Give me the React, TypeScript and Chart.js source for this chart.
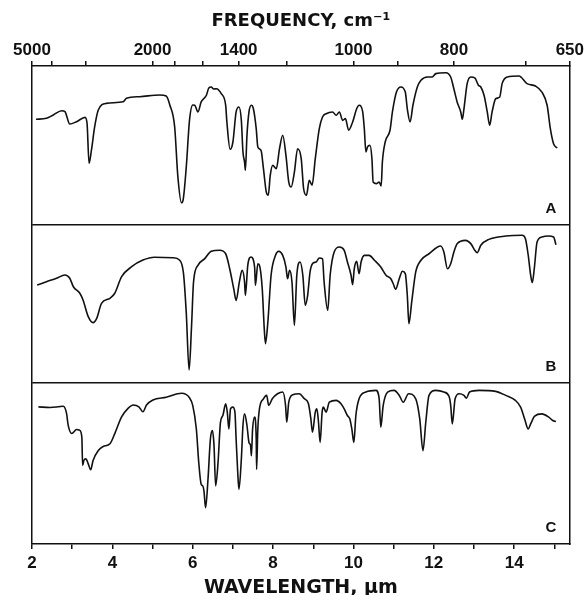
import React, { useEffect, useRef } from 'react';
import { Chart, registerables } from 'chart.js';

Chart.register(...registerables);

// Spectrum A (wavelength in µm, % transmittance within panel)
const wavelengthA = [2.10,2.36,2.53,2.74,2.82,2.94,3.11,3.32,3.37,3.42,3.48,3.56,3.65,3.85,4.27,4.35,4.68,5.18,5.34,5.43,5.55,5.63,5.72,5.76,5.84,5.92,6.00,6.05,6.13,6.21,6.34,6.40,6.46,6.52,6.59,6.71,6.82,6.85,6.93,7.00,7.08,7.15,7.21,7.25,7.29,7.31,7.35,7.40,7.46,7.51,7.58,7.62,7.70,7.76,7.83,7.88,7.93,7.99,8.08,8.16,8.24,8.32,8.39,8.45,8.53,8.61,8.70,8.76,8.83,8.90,8.97,9.05,9.15,9.23,9.32,9.48,9.57,9.65,9.73,9.80,9.88,9.98,10.08,10.14,10.23,10.27,10.31,10.35,10.41,10.46,10.49,10.57,10.64,10.69,10.72,10.79,10.91,10.97,11.07,11.18,11.29,11.34,11.41,11.48,11.59,11.68,11.84,11.96,12.05,12.30,12.42,12.50,12.58,12.67,12.71,12.75,12.83,12.92,13.02,13.11,13.17,13.25,13.33,13.39,13.45,13.54,13.64,13.70,13.83,14.12,14.32,14.53,14.69,14.82,14.90,14.98,15.07];
const transA = [66.5,67.1,69.2,71.9,71.3,63.5,65.0,67.7,64.0,38.8,47.2,61.8,72.3,76.5,77.5,79.7,80.7,81.8,81.1,75.5,61.8,30.4,14.0,15.7,36.7,66.0,75.5,75.3,71.1,77.4,81.6,86.2,86.8,85.5,85.7,82.6,75.3,64.8,47.6,52.2,71.1,74.2,65.8,45.9,39.6,34.4,56.4,71.1,75.3,73.1,60.6,49.1,47.0,35.4,20.8,18.7,31.3,37.5,35.4,48.0,56.4,43.8,27.0,23.9,33.3,48.0,41.7,22.8,18.7,28.1,25.0,41.7,60.6,67.9,70.0,71.1,69.0,71.1,65.8,66.9,59.6,64.8,73.1,75.3,71.1,60.6,45.9,49.1,50.1,41.7,27.0,26.0,27.0,24.5,39.6,52.2,59.6,71.1,83.6,86.8,83.6,73.1,64.8,75.3,86.8,91.0,93.1,93.1,95.2,95.8,93.1,85.5,77.4,71.1,66.5,73.1,88.9,93.1,92.5,87.9,86.8,81.6,71.1,62.7,71.1,79.4,80.5,88.9,93.1,93.7,88.9,87.4,83.6,75.3,60.6,51.1,48.4];

// Spectrum B
const wavelengthB = [2.13,2.36,2.61,2.82,2.94,3.03,3.19,3.27,3.40,3.52,3.61,3.73,3.94,4.06,4.23,4.48,4.76,5.05,5.51,5.67,5.77,5.84,5.91,5.97,6.02,6.13,6.30,6.46,6.67,6.82,6.92,7.02,7.08,7.16,7.23,7.29,7.31,7.37,7.45,7.54,7.56,7.62,7.66,7.73,7.78,7.81,7.87,7.95,8.06,8.14,8.24,8.32,8.36,8.41,8.47,8.53,8.59,8.67,8.74,8.80,8.86,8.92,8.98,9.07,9.15,9.23,9.27,9.36,9.42,9.52,9.65,9.77,9.85,9.94,9.98,10.02,10.08,10.14,10.19,10.27,10.39,10.52,10.68,10.81,10.93,10.99,11.05,11.14,11.22,11.29,11.34,11.38,11.45,11.55,11.68,11.88,12.17,12.25,12.34,12.42,12.50,12.58,12.79,12.92,13.02,13.08,13.17,13.37,13.79,14.20,14.28,14.35,14.41,14.45,14.50,14.57,14.69,14.86,14.98,15.04];
const transB = [62.0,64.1,66.3,68.4,66.3,60.9,56.8,52.5,42.0,38.2,40.9,50.4,53.6,56.8,67.3,73.6,77.8,79.6,79.3,77.8,69.4,44.1,8.2,35.6,63.9,74.5,78.7,83.4,84.0,81.8,72.3,59.7,52.3,63.9,71.3,63.9,55.5,74.5,79.7,73.4,61.8,75.5,74.5,59.7,34.4,24.9,38.6,68.2,80.8,83.4,80.8,73.4,66.0,71.3,63.9,36.5,68.2,76.6,68.2,49.2,55.5,70.3,75.5,76.6,79.1,78.5,63.9,46.0,68.2,82.9,86.1,84.0,76.6,68.2,62.2,72.3,77.0,69.2,76.6,80.8,80.8,77.7,73.4,68.2,66.0,62.8,59.3,66.0,70.7,69.2,55.5,37.5,51.3,70.3,77.7,81.8,86.7,82.9,72.3,75.5,82.9,88.2,90.3,88.2,84.0,82.5,87.2,90.9,93.0,93.5,91.3,80.8,68.2,63.5,72.3,89.2,92.4,93.0,92.4,87.5];

// Spectrum C
const wavelengthC = [2.16,2.45,2.65,2.78,2.86,2.90,2.99,3.11,3.19,3.24,3.26,3.29,3.34,3.40,3.46,3.52,3.65,3.77,3.94,4.06,4.23,4.39,4.52,4.66,4.76,4.85,5.01,5.34,5.72,5.92,6.00,6.09,6.15,6.21,6.25,6.28,6.32,6.38,6.44,6.49,6.53,6.57,6.63,6.69,6.75,6.82,6.86,6.90,6.94,7.00,7.05,7.08,7.12,7.15,7.21,7.25,7.29,7.35,7.40,7.44,7.46,7.49,7.54,7.58,7.59,7.62,7.66,7.76,7.84,7.89,7.98,8.11,8.24,8.31,8.34,8.39,8.49,8.65,8.78,8.88,8.94,8.98,9.05,9.09,9.13,9.17,9.22,9.25,9.32,9.40,9.57,9.69,9.77,9.85,9.91,9.96,10.01,10.06,10.14,10.31,10.56,10.64,10.68,10.74,10.85,11.01,11.14,11.24,11.37,11.55,11.65,11.73,11.80,11.88,12.05,12.25,12.38,12.42,12.46,12.53,12.63,12.75,12.81,12.89,13.12,13.54,13.79,14.03,14.16,14.26,14.35,14.41,14.51,14.69,14.86,14.96,15.04];
const transC = [85.2,84.8,85.2,85.6,81.1,73.8,68.6,71.1,70.6,66.4,48.8,51.9,52.9,49.8,46.1,51.9,58.1,60.6,62.3,68.6,78.9,84.2,86.3,85.2,82.1,86.3,89.4,91.1,93.6,90.8,86.1,71.4,50.6,37.1,36.1,32.9,22.5,40.2,65.2,70.4,61.1,36.1,50.6,75.6,79.8,87.1,81.9,71.4,83.9,85.0,81.9,65.2,44.4,33.9,52.7,73.6,80.8,73.6,63.1,61.1,54.8,71.4,78.8,65.2,46.4,71.4,83.9,90.2,92.3,86.1,90.2,93.3,94.4,86.1,75.6,88.1,92.7,93.3,90.2,87.1,77.7,69.4,81.9,83.9,75.6,63.1,81.9,85.0,81.9,88.1,89.2,87.1,83.9,79.8,77.7,71.4,63.1,79.8,90.2,94.4,95.4,90.2,72.5,86.1,94.4,95.4,92.3,88.1,93.3,90.2,77.7,57.9,75.6,92.3,95.4,94.4,91.6,86.1,74.6,90.2,93.3,92.3,90.6,94.4,95.4,94.8,92.3,89.2,85.0,77.7,71.4,74.6,79.4,80.8,78.8,76.7,76.1];

// Axis ticks
const wavelengthTicks = [2, 3, 4, 5, 6, 7, 8, 9, 10, 11, 12, 13, 14, 15];
const wavelengthLabels = [2, 4, 6, 8, 10, 12, 14];
const frequencyTicks = [5000, 4000, 3000, 2000, 1800, 1600, 1400, 1200, 1000, 900, 800, 700, 650];
const frequencyLabels = [5000, 2000, 1400, 1000, 800, 650];
const panelNames = ['A', 'B', 'C'];

const INK = '#111';
const TICK_FONT = { family: "'Liberation Sans', Arial, sans-serif", size: 17, weight: 'bold' as const, lineHeight: 1 };
const TOP_TITLE_FONT = { family: "'DejaVu Sans', sans-serif", size: 18, weight: 'bold' as const, lineHeight: 1 };
const BOTTOM_TITLE_FONT = { family: "'DejaVu Sans', sans-serif", size: 19, weight: 'bold' as const, lineHeight: 1 };

const panelLetters = {
  id: 'panelLetters',
  afterDraw(chart: any) {
    const ctx = chart.ctx;
    const area = chart.chartArea;
    const ids = ['yA', 'yB', 'yC'];
    ctx.save();
    ctx.fillStyle = INK;
    ctx.font = "bold 15px 'Liberation Sans', Arial, sans-serif";
    ctx.textAlign = 'center';
    ctx.textBaseline = 'middle';
    ids.forEach((id, i) => {
      const s = chart.scales[id];
      ctx.fillText(panelNames[i], area.right - 19, s.bottom - 16);
    });
    ctx.restore();
  },
};

export default function App() {
  const ref = useRef<HTMLCanvasElement>(null);

  useEffect(() => {
    const canvas = ref.current;
    if (!canvas) return;
    const pts = (xs: number[], ys: number[]) => xs.map((x, i) => ({ x, y: ys[i] }));
    const lineStyle = {
      borderColor: INK,
      borderWidth: 1.6,
      pointRadius: 0,
      fill: false,
      tension: 0.4,
      cubicInterpolationMode: 'monotone' as const,
    };
    const panelAxis = (weight: number, divider: boolean): any => ({
      type: 'linear',
      position: 'left',
      stack: 'spectra',
      stackWeight: weight,
      min: 0,
      max: 100,
      ticks: { display: false },
      grid: { display: true, drawTicks: false, drawOnChartArea: true, color: INK, lineWidth: 1.5 },
      border: { display: true, color: INK, width: 1.5 },
      afterBuildTicks: (s: any) => {
        s.ticks = divider ? [{ value: 100 }] : [];
      },
    });
    const xMax = 10000 / 650;

    const chart = new Chart(canvas, {
      type: 'line',
      data: {
        datasets: [
          { label: 'A', data: pts(wavelengthA, transA), yAxisID: 'yA', ...lineStyle },
          { label: 'B', data: pts(wavelengthB, transB), yAxisID: 'yB', ...lineStyle },
          { label: 'C', data: pts(wavelengthC, transC), yAxisID: 'yC', ...lineStyle },
        ],
      },
      options: {
        animation: false,
        responsive: false,
        events: [],
        layout: { padding: { left: 32, right: 15, top: 12.5, bottom: 2.8 } },
        plugins: { legend: { display: false }, tooltip: { enabled: false } },
        scales: {
          x: {
            type: 'linear',
            position: 'bottom',
            min: 2,
            max: xMax,
            afterBuildTicks: (s: any) => {
              s.ticks = wavelengthTicks.map((v) => ({ value: v }));
            },
            ticks: {
              autoSkip: false,
              maxRotation: 0,
              padding: 6,
              color: INK,
              font: TICK_FONT,
              callback: (v: any) => (wavelengthLabels.includes(Number(v)) ? String(v) : ''),
            },
            grid: { drawOnChartArea: false, drawTicks: true, tickLength: 5, color: INK, lineWidth: 1.5 },
            border: { display: true, color: INK, width: 1.5 },
            title: {
              display: true,
              text: 'WAVELENGTH, μm',
              color: INK,
              font: BOTTOM_TITLE_FONT,
              padding: { top: 0.2, bottom: 0 },
            },
          },
          xTop: {
            type: 'linear',
            position: 'top',
            min: 2,
            max: xMax,
            afterBuildTicks: (s: any) => {
              s.ticks = frequencyTicks.map((n) => ({ value: 10000 / n }));
            },
            ticks: {
              autoSkip: false,
              maxRotation: 0,
              padding: 2,
              color: INK,
              font: TICK_FONT,
              callback: (v: any) => {
                const n = Math.round(10000 / Number(v));
                return frequencyLabels.includes(n) ? String(n) : '';
              },
            },
            grid: { drawOnChartArea: false, drawTicks: true, tickLength: 5, color: INK, lineWidth: 1.5 },
            border: { display: true, color: INK, width: 1.5 },
            title: {
              display: true,
              text: 'FREQUENCY, cm⁻¹',
              color: INK,
              font: TOP_TITLE_FONT,
              padding: { top: 0, bottom: 9.5 },
            },
          },
          yC: panelAxis(161, true),
          yB: panelAxis(158, true),
          yA: panelAxis(159, false),
          yR: {
            type: 'linear',
            position: 'right',
            min: 0,
            max: 1,
            ticks: { display: false },
            grid: { display: false, drawTicks: false },
            border: { display: true, color: INK, width: 1.5 },
          },
        } as any,
      },
      plugins: [panelLetters],
    });

    return () => chart.destroy();
  }, []);

  return (
    <div style={{ position: 'fixed', left: 0, top: 0, width: 586, height: 595, overflow: 'hidden', background: '#fff' }}>
      <canvas ref={ref} width={586} height={600} style={{ display: 'block' }} />
    </div>
  );
}
